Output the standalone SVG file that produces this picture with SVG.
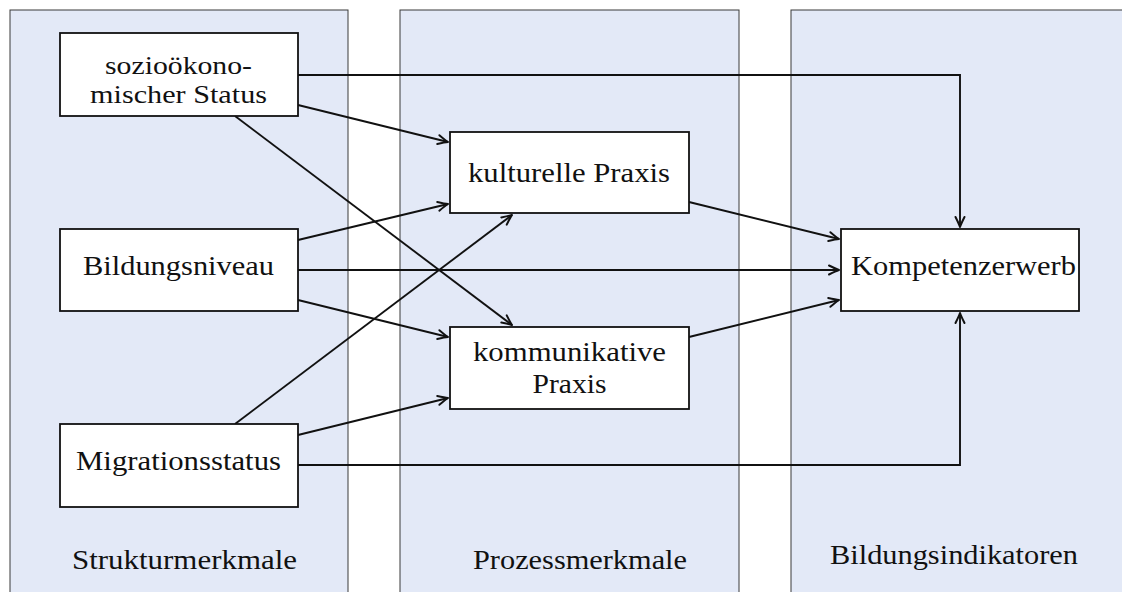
<svg xmlns="http://www.w3.org/2000/svg" width="1122" height="592" viewBox="0 0 1122 592">
<style>
.col{fill:#E3E9F7;stroke:#3a3a3a;stroke-width:1}
.box{fill:#ffffff;stroke:#111;stroke-width:1.8}
.t{font-family:"Liberation Serif","Times New Roman",serif;font-size:27px;fill:#111;text-anchor:middle}
.s{font-size:26px}
.c{fill:none;stroke:#111;stroke-width:1.9}
</style>
<defs>
<marker id="ah" markerUnits="userSpaceOnUse" markerWidth="16" markerHeight="14" viewBox="-12 -7 14 14" refX="0" refY="0" orient="auto">
<path d="M-10,-4.5 Q-3,-1 0,0 Q-3,1 -10,4.5" fill="none" stroke="#111" stroke-width="2" stroke-linecap="round" stroke-linejoin="round"/>
</marker>
</defs>
<g id="columns">
<rect class="col" x="10" y="10" width="338" height="600"/>
<rect class="col" x="400" y="10" width="339" height="600"/>
<rect class="col" x="791" y="10" width="340" height="600"/>
<text class="t" x="184.5" y="569" textLength="225" lengthAdjust="spacingAndGlyphs">Strukturmerkmale</text>
<text class="t" x="580" y="569" textLength="214" lengthAdjust="spacingAndGlyphs">Prozessmerkmale</text>
<text class="t" x="954" y="564" textLength="248" lengthAdjust="spacingAndGlyphs">Bildungsindikatoren</text>
</g>
<g id="connectors">
<path class="c" d="M298,75 H960 V227" marker-end="url(#ah)"/>
<path class="c" d="M298,105 L448,142" marker-end="url(#ah)"/>
<path class="c" d="M235,116 L512,325" marker-end="url(#ah)"/>
<path class="c" d="M298,240 L448,204" marker-end="url(#ah)"/>
<path class="c" d="M298,270 H839" marker-end="url(#ah)"/>
<path class="c" d="M298,300 L448,337" marker-end="url(#ah)"/>
<path class="c" d="M235,424 L512,215" marker-end="url(#ah)"/>
<path class="c" d="M298,435 L448,398" marker-end="url(#ah)"/>
<path class="c" d="M298,465 H960 V313" marker-end="url(#ah)"/>
<path class="c" d="M689,202 L839,239" marker-end="url(#ah)"/>
<path class="c" d="M689,337 L839,300" marker-end="url(#ah)"/>
</g>
<g id="sozio">
<rect class="box" x="60" y="33" width="238" height="83"/>
<text class="t s" x="178.5" y="74" textLength="147" lengthAdjust="spacingAndGlyphs">sozioökono-</text>
<text class="t s" x="178.5" y="103" textLength="177" lengthAdjust="spacingAndGlyphs">mischer Status</text>
</g>
<g id="bildungsniveau">
<rect class="box" x="60" y="229" width="238" height="82"/>
<text class="t" x="178.5" y="275" textLength="191" lengthAdjust="spacingAndGlyphs">Bildungsniveau</text>
</g>
<g id="migration">
<rect class="box" x="60" y="424" width="238" height="83"/>
<text class="t" x="178.5" y="470" textLength="205" lengthAdjust="spacingAndGlyphs">Migrationsstatus</text>
</g>
<g id="kulturell">
<rect class="box" x="450" y="132" width="239" height="81"/>
<text class="t" x="569" y="182" textLength="202" lengthAdjust="spacingAndGlyphs">kulturelle Praxis</text>
</g>
<g id="kommunikativ">
<rect class="box" x="450" y="327" width="239" height="82"/>
<text class="t" x="569.5" y="361" textLength="193" lengthAdjust="spacingAndGlyphs">kommunikative</text>
<text class="t" x="569.5" y="393" textLength="74" lengthAdjust="spacingAndGlyphs">Praxis</text>
</g>
<g id="kompetenz">
<rect class="box" x="841" y="229" width="238" height="82"/>
<text class="t" x="963.5" y="275" textLength="225" lengthAdjust="spacingAndGlyphs">Kompetenzerwerb</text>
</g>
</svg>
